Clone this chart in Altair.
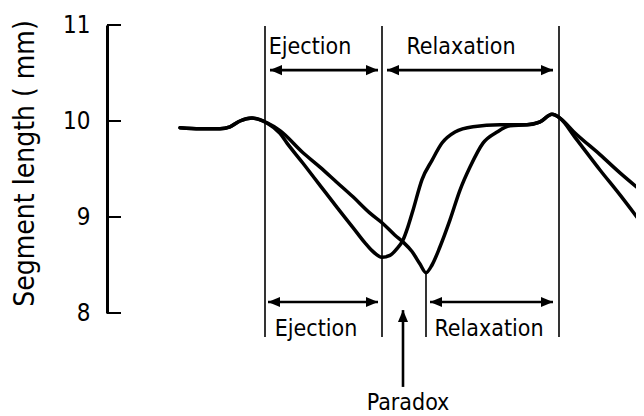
import altair as alt
import pandas as pd

# ---------------- data ----------------
# hidden time axis (arbitrary units) and segment length (mm)
time_a = [73, 93, 113, 123, 133, 145, 160, 173, 180, 196, 213, 230, 246, 258, 265,
          275, 283, 290, 296, 301, 306, 315, 325, 335, 348, 366, 393, 420, 433, 445,
          453, 468, 493, 513, 537]
len_a = [9.93, 9.92, 9.92, 9.94, 10.00, 10.03, 9.98, 9.87, 9.77, 9.56, 9.33, 9.10, 8.89, 8.73, 8.65,
         8.58, 8.60, 8.67, 8.76, 8.90, 9.07, 9.39, 9.59, 9.77, 9.885, 9.94, 9.96, 9.96, 9.99, 10.07,
         10.03, 9.83, 9.49, 9.23, 8.90]

time_b = [73, 93, 113, 123, 133, 145, 160, 173, 196, 213, 230, 246, 263, 275, 288,
          296, 305, 313, 319, 325, 333, 343, 353, 363, 376, 390, 403, 420, 433, 445,
          453, 468, 493, 513, 537]
len_b = [9.93, 9.92, 9.92, 9.94, 10.00, 10.03, 9.98, 9.90, 9.67, 9.52, 9.36, 9.21, 9.04, 8.94, 8.81,
         8.74, 8.64, 8.51, 8.42, 8.50, 8.69, 8.97, 9.28, 9.52, 9.77, 9.885, 9.95, 9.96, 9.99, 10.07,
         10.03, 9.875, 9.65, 9.46, 9.25]

y_ticks = [8, 9, 10, 11]

# event markers (time) : start of ejection, end of ejection, end of relaxation
event_times = [158, 275, 452]
paradox_time = 319          # minimum of the second trace

labels_top = ["Ejection", "Relaxation"]
labels_bottom = ["Ejection", "Relaxation"]
paradox_label = "Paradox"
y_title = "Segment length ( mm)"

# ---------------- layout constants ----------------
FONT = "DejaVu Sans Condensed, DejaVu Sans, sans-serif"
LINE_TOP, LINE_BOTTOM = 10.99, 7.75
ARROW_TOP_Y, ARROW_BOT_Y = 10.53, 8.115
LABEL_TOP_Y, LABEL_BOT_Y = 10.70, 7.76

curves = pd.DataFrame(
    [{"t": t, "mm": v, "curve": "A"} for t, v in zip(time_a, len_a)]
    + [{"t": t, "mm": v, "curve": "B"} for t, v in zip(time_b, len_b)]
)

rules = pd.DataFrame(
    [{"t": t, "mm": LINE_BOTTOM, "mm2": LINE_TOP} for t in event_times]
    + [{"t": paradox_time, "mm": LINE_BOTTOM, "mm2": min(len_b)}]
)

arrows = pd.DataFrame([
    {"t": 163, "t2": 271, "mm": ARROW_TOP_Y},
    {"t": 280, "t2": 446, "mm": ARROW_TOP_Y},
    {"t": 161, "t2": 271, "mm": ARROW_BOT_Y},
    {"t": 323, "t2": 446, "mm": ARROW_BOT_Y},
])

RIGHT = "M0,0L-1,-0.42L-1,0.42Z"
LEFT = "M0,0L1,-0.42L1,0.42Z"
UP = "M0,0L-0.42,1L0.42,1Z"
heads = pd.DataFrame(
    [{"t": r.t, "mm": r.mm, "shape": LEFT} for r in arrows.itertuples()]
    + [{"t": r.t2, "mm": r.mm, "shape": RIGHT} for r in arrows.itertuples()]
    + [{"t": 296, "mm": 8.03, "shape": UP}]
)

paradox_arrow = pd.DataFrame([{"t": 296, "mm": 7.23, "mm2": 8.03}])

texts = pd.DataFrame([
    {"t": 203, "mm": LABEL_TOP_Y, "label": labels_top[0]},
    {"t": 354, "mm": LABEL_TOP_Y, "label": labels_top[1]},
    {"t": 209, "mm": LABEL_BOT_Y, "label": labels_bottom[0]},
    {"t": 382, "mm": LABEL_BOT_Y, "label": labels_bottom[1]},
    {"t": 301, "mm": 6.99, "label": paradox_label},
])

tick_df = pd.DataFrame({"mm": y_ticks, "t": 0, "t2": 14})

# ---------------- scales / axes ----------------
xs = alt.Scale(domain=[0, 529], nice=False, zero=False)
ys = alt.Scale(domain=[8, 11], nice=False, zero=False)
yaxis = alt.Axis(
    values=y_ticks, ticks=False, grid=False, labelPadding=17,
    domainColor="black", domainWidth=3,
    labelFont=FONT, labelFontSize=24, labelColor="black",
    title=y_title, titleFont=FONT, titleFontSize=28, titleFontWeight="normal",
    titleColor="black", titleAngle=270, titleAlign="center", titleBaseline="middle",
    titleX=-82, titleY=138,
)
X = alt.X("t:Q", scale=xs, axis=None)
Y = alt.Y("mm:Q", scale=ys, axis=yaxis)

line_layer = alt.Chart(curves).mark_line(
    interpolate="monotone", strokeWidth=3.5, color="black", strokeCap="round", clip=True
).encode(x=X, y=Y, detail="curve:N")

rule_layer = alt.Chart(rules).mark_rule(color="black", strokeWidth=1.6).encode(
    x=X, y=Y, y2="mm2:Q"
)

tick_layer = alt.Chart(tick_df).mark_rule(color="black", strokeWidth=2).encode(
    x=X, x2="t2:Q", y=Y
)

arrow_layer = alt.Chart(arrows).mark_rule(color="black", strokeWidth=2.6).encode(
    x=X, x2="t2:Q", y=Y
)

paradox_layer = alt.Chart(paradox_arrow).mark_rule(color="black", strokeWidth=2.6).encode(
    x=X, y=Y, y2="mm2:Q"
)

head_layer = alt.Chart(heads).mark_point(
    filled=True, opacity=1, color="black", size=576, strokeWidth=0
).encode(x=X, y=Y, shape=alt.Shape("shape:N", scale=None))

text_layer = alt.Chart(texts).mark_text(
    font=FONT, fontSize=23, color="black", align="center", baseline="alphabetic"
).encode(x=X, y=Y, text="label:N")

chart = alt.layer(
    rule_layer, tick_layer, line_layer, arrow_layer, paradox_layer, head_layer, text_layer
).properties(
    width=529, height=288,
    padding={"left": 99, "top": 17, "right": 0, "bottom": 103},
    autosize=alt.AutoSizeParams(type="none"),
    background="white",
).configure_view(stroke=None)

chart.save("out.html", embed_options={"renderer": "svg", "actions": False})
